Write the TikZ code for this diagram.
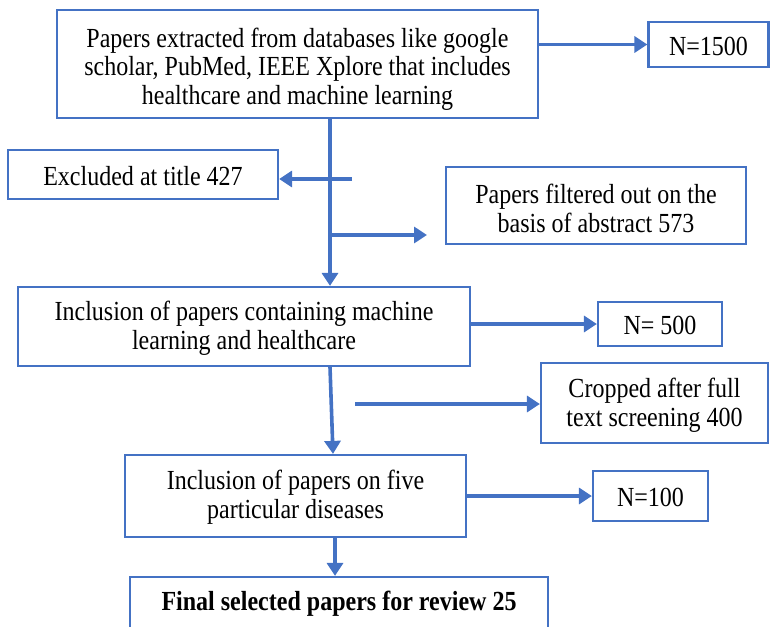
\documentclass[tikz,border=0pt]{standalone}
\usepackage{fontspec}
\setmainfont[FakeStretch=0.87]{Liberation Serif}
\usetikzlibrary{arrows.meta,calc}
\definecolor{wordblue}{RGB}{68,114,196}
\tikzset{
  box/.style={draw=wordblue, line width=1.1pt, fill=white, inner sep=0pt},
  txt/.style={inner sep=0pt, align=center, font=\fontsize{13.8}{14.3}\selectfont},
  arr/.style={draw=wordblue, line width=1.8pt, -{Triangle[length=6.5pt,width=8pt]}},
}
\begin{document}
\begin{tikzpicture}[x=0.5pt,y=-0.5pt]
\useasboundingbox (0,0) rectangle (770,626);
\clip (0,0) rectangle (770,626);
\node[box, minimum width=240.5pt, minimum height=54pt] (b1) at (297.5,64) {};
\node[txt] (b1t) at ([yshift=-2.5pt]b1.center)
  {Papers extracted from databases like google\\scholar, PubMed, IEEE Xplore that includes\\healthcare and machine learning};
\node[box, minimum width=60pt, minimum height=22.5pt] (n1) at (708.5,44.5) {};
\node[txt] (n1t) at ([yshift=-1pt]n1.center) {N=1500};
\node[box, minimum width=135pt, minimum height=24.5pt] (ex) at (143,174.5) {};
\node[txt] (ext) at ([yshift=-1pt]ex.center) {Excluded at title 427};
\node[box, minimum width=150pt, minimum height=38.5pt] (fi) at (596,205.5) {};
\node[txt] (fit) at ([yshift=-1.5pt]fi.center) {Papers filtered out on the\\basis of abstract 573};
\node[box, minimum width=226pt, minimum height=39.5pt] (b3) at (244,326.5) {};
\node[txt] (b3t) at ([yshift=-1pt]b3.center) {Inclusion of papers containing machine\\learning and healthcare};
\node[box, minimum width=62pt, minimum height=22pt] (n3) at (660,324) {};
\node[txt] (n3t) at ([yshift=-0.5pt]n3.center) {N= 500};
\node[box, minimum width=113.5pt, minimum height=40pt] (cr) at (654.5,403) {};
\node[txt] (crt) at ([yshift=-1pt]cr.center) {Cropped after full\\text screening 400};
\node[box, minimum width=170.5pt, minimum height=41pt] (b4) at (295.5,496) {};
\node[txt] (b4t) at ([yshift=-0.5pt]b4.center) {Inclusion of papers on five\\particular diseases};
\node[box, minimum width=57.5pt, minimum height=25pt] (n4) at (650.5,496) {};
\node[txt] (n4t) at ([yshift=-0.5pt]n4.center) {N=100};
\node[box, minimum width=209pt, minimum height=27pt] (b5) at (339,604) {};
\node[txt, font=\fontsize{13.8}{14.3}\selectfont\bfseries] (b5t) at ([yshift=0pt]b5.center) {Final selected papers for review 25};

\coordinate (tx) at (330,0);
\coordinate (ty) at (333,0);
\coordinate (tz) at (335,0);
\coordinate (e0) at (352,179);
\coordinate (f0) at (330,235);
\coordinate (f1) at (427,235);
\coordinate (c0) at (355,404);

\draw[arr] (b1.east |- n1.west) -- (n1.west);
\draw[arr] (b1.south -| tx) -- (b3.north -| tx);
\draw[arr] (e0) -- (e0 -| ex.east);
\draw[arr] (f0) -- (f1);
\draw[arr] (b3.east |- n3.west) -- (n3.west);
\draw[arr] (b3.south -| tx) -- (b4.north -| ty);
\draw[arr] (c0) -- (c0 -| cr.west);
\draw[arr] (b4.east) -- (n4.west);
\draw[arr] (b4.south -| tz) -- (b5.north -| tz);
\end{tikzpicture}
\end{document}
